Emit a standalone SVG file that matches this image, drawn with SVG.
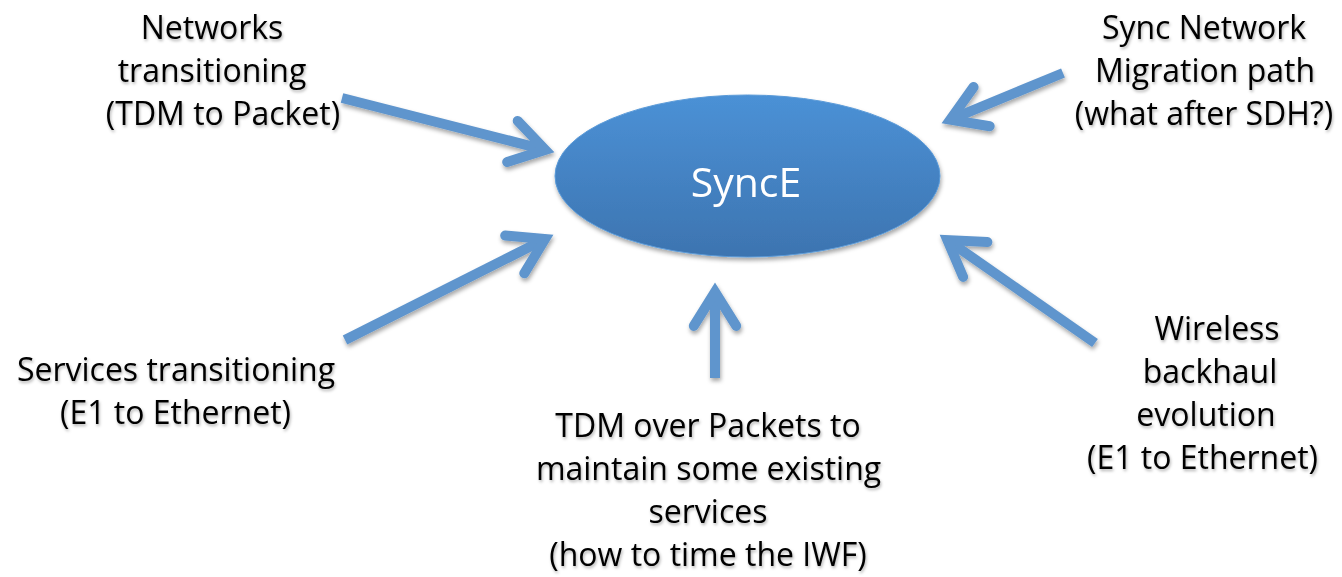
<svg xmlns="http://www.w3.org/2000/svg" width="1342" height="577" viewBox="0 0 1342 577">
  <defs>
    <linearGradient id="ovalFill" x1="0" y1="0" x2="0" y2="1">
      <stop offset="0" stop-color="#4b91d6"/>
      <stop offset="1" stop-color="#3d74b0"/>
    </linearGradient>
    <filter id="shapeShadow" x="-20%" y="-20%" width="140%" height="150%">
      <feDropShadow dx="1" dy="3" stdDeviation="2" flood-color="#000" flood-opacity="0.35"/>
    </filter>
    <filter id="textShadow" x="-10%" y="-20%" width="120%" height="150%">
      <feDropShadow dx="1" dy="2" stdDeviation="1.5" flood-color="#000" flood-opacity="0.3"/>
    </filter>
  </defs>
  <style>
    .label { font-family: "Open Sans", "Noto Sans", sans-serif; font-size: 32px; fill: #000; text-anchor: middle; }
    .title { font-family: "Open Sans", "Noto Sans", sans-serif; font-size: 41px; fill: #fff; text-anchor: middle; }
    .shaft { fill: none; stroke: #5f95cd; stroke-width: 10; stroke-linecap: butt; }
    .head { fill: none; stroke: #5f95cd; stroke-width: 10; stroke-linecap: round; stroke-linejoin: miter; stroke-miterlimit: 10; }
  </style>
  <rect width="1342" height="577" fill="#fff"/>

  <!-- central node -->
  <g id="synce" filter="url(#shapeShadow)">
    <ellipse cx="747.5" cy="176" rx="192.5" ry="81" fill="url(#ovalFill)" stroke="#5a9ad8" stroke-width="1"/>
    <text class="title" x="746" y="197">SyncE</text>
  </g>

  <!-- arrows pointing at the central node -->
  <g id="connectors" filter="url(#shapeShadow)">
    <line class="shaft" x1="342" y1="98" x2="545.3" y2="149.8"/>
    <polyline class="head" points="517.7,120.9 545.3,149.8 507.2,162"/>

    <line class="shaft" x1="1063" y1="73" x2="950.3" y2="119.6"/>
    <polyline class="head" points="989.7,126.2 950.3,119.6 973.6,87"/>

    <line class="shaft" x1="345" y1="340" x2="545" y2="239.1"/>
    <polyline class="head" points="505.2,235.5 545,239.1 524.3,273.3"/>

    <line class="shaft" x1="715" y1="378" x2="715" y2="292"/>
    <polyline class="head" points="693.8,325.9 715,292 736.2,325.9"/>

    <line class="shaft" x1="1095" y1="343" x2="947.4" y2="240.1"/>
    <polyline class="head" points="963.1,276.9 947.4,240.1 987.4,242.1"/>
  </g>

  <!-- surrounding drivers -->
  <g id="networks" filter="url(#textShadow)">
    <text class="label" x="212" y="39">Networks</text>
    <text class="label" x="212" y="82">transitioning</text>
    <text class="label" x="223" y="125">(TDM to Packet)</text>
  </g>

  <g id="migration" filter="url(#textShadow)">
    <text class="label" x="1204" y="39">Sync Network</text>
    <text class="label" x="1205" y="82">Migration path</text>
    <text class="label" x="1204" y="125">(what after SDH?)</text>
  </g>

  <g id="services" filter="url(#textShadow)">
    <text class="label" x="176" y="381">Services transitioning</text>
    <text class="label" x="175.5" y="424">(E1 to Ethernet)</text>
  </g>

  <g id="tdm" filter="url(#textShadow)">
    <text class="label" x="708" y="437">TDM over Packets to</text>
    <text class="label" x="708.5" y="480">maintain some existing</text>
    <text class="label" x="708" y="523">services</text>
    <text class="label" x="708" y="566">(how to time the IWF)</text>
  </g>

  <g id="wireless" filter="url(#textShadow)">
    <text class="label" x="1217" y="340">Wireless</text>
    <text class="label" x="1210" y="383">backhaul</text>
    <text class="label" x="1206" y="426">evolution</text>
    <text class="label" x="1202.5" y="469">(E1 to Ethernet)</text>
  </g>
</svg>
